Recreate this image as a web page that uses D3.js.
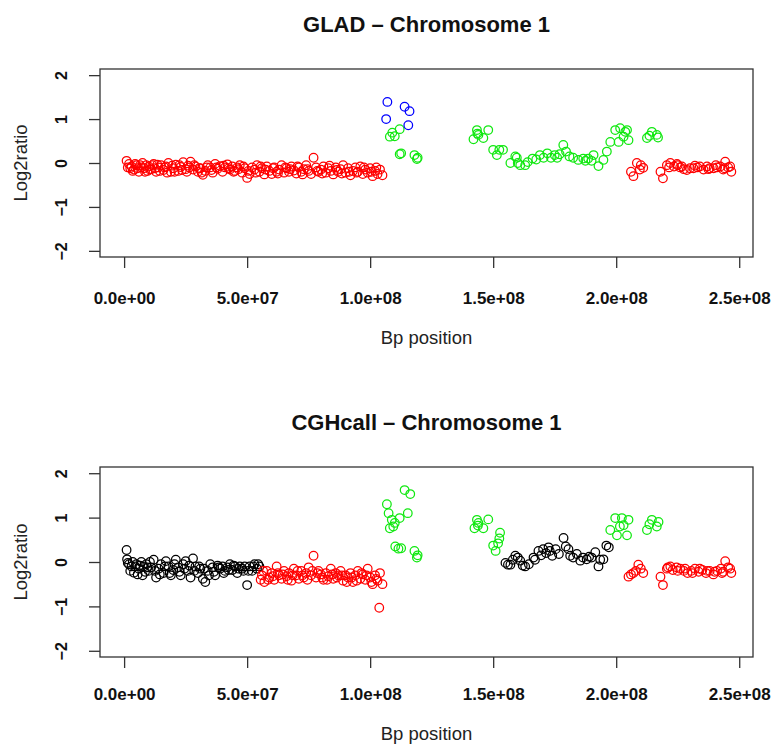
<!DOCTYPE html>
<html>
<head>
<meta charset="utf-8">
<script src="https://cdn.jsdelivr.net/npm/d3@7"></script>
<style>
  body { margin: 0; background: #fff; }
  svg { display: block; font-family: "Liberation Sans", Arial, sans-serif; }
</style>
</head>
<body>
<svg id="chart" width="774" height="748"></svg>
<script>
// tick values / labels shared by both panels
const xTicks = [0, 5e7, 1e8, 1.5e8, 2e8, 2.5e8];
const xTickLabels = ["0.0e+00", "5.0e+07", "1.0e+08", "1.5e+08", "2.0e+08", "2.5e+08"];
const yTicks = [-2, -1, 0, 1, 2];
const yTickLabels = ["\u22122", "\u22121", "0", "1", "2"];

// GLAD panel, [position Mb, log2ratio]
const gladLoss = [
  [1,0.05],[2,-0.02],[3,-0.08],[4,-0.15],[5,-0.05],[6,-0.2],[7,-0.1],[7.5,0],[8,-0.12],[9,-0.05],
  [9.5,-0.18],[10,-0.08],[11,-0.14],[12,-0.02],[13,-0.2],[14,-0.1],[15,-0.05],[16,-0.16],[17,-0.08],[18,0],
  [19,-0.2],[20,-0.12],[21,-0.04],[22,-0.18],[23,-0.09],[24,0.02],[25,-0.14],[26,-0.06],[27,0.03],[28,-0.15],
  [29,-0.08],[30,-0.2],[31,-0.12],[32,-0.27],[33,-0.18],[34,-0.05],[35,-0.1],[36,-0.22],[37,-0.02],[38,-0.13],
  [39,-0.07],[40,-0.2],[41,-0.1],[42,-0.03],[43,-0.15],[44,-0.08],[45,-0.18],[46,-0.1],[47,-0.05],[48,-0.22],
  [49,-0.12],[50,-0.34],[51,-0.25],[52,-0.1],[53,-0.15],[54,-0.05],[55,-0.2],[56,-0.12],[57,-0.26],[58,-0.08],
  [59,-0.18],[60,-0.25],[61,-0.1],[62,-0.2],[63,-0.15],[64,-0.05],[65,-0.22],[66,-0.12],[67,-0.2],[68,-0.08],
  [69,-0.17],[70,-0.24],[71,-0.1],[72,-0.2],[73,-0.14],[74,-0.05],[75,-0.18],[76,-0.25],[77,0.12],[78,-0.1],
  [79,-0.2],[80,-0.15],[81,-0.08],[82,-0.22],[83,-0.12],[84,-0.18],[85,-0.26],[86,-0.1],[87,-0.2],[88,-0.14],
  [89,-0.05],[90,-0.22],[91,-0.12],[92,-0.28],[93,-0.18],[94,-0.1],[95,-0.2],[96,-0.08],[97,-0.25],[98,-0.15],
  [99,-0.22],[100,-0.12],[101,-0.3],[102,-0.18],[103,-0.25],[104,-0.15],[105,-0.28],
  [1.5,-0.1],[2.5,-0.12],[3.5,-0.18],[4.5,-0.02],[5.5,-0.12],[6.5,-0.05],[8.5,-0.2],[10.5,-0.15],[11.5,-0.05],[12.5,-0.12],
  [13.5,-0.04],[14.5,-0.18],[16.5,-0.1],[17.5,-0.22],[19.5,-0.06],[20.5,-0.2],[22.5,-0.05],[23.5,-0.16],[25.5,-0.2],[26.5,-0.1],
  [28.5,-0.05],[30.5,-0.12],[31.5,-0.22],[33.5,-0.1],[35.5,-0.16],[37.5,-0.1],[40.5,-0.06],[42.5,-0.12],[44.5,-0.2],[46.5,-0.14],
  [48.5,-0.08],[50.5,-0.18],[53.5,-0.22],[55.5,-0.08],[57.5,-0.15],[60.5,-0.12],[62.5,-0.24],[65.5,-0.1],[67.5,-0.14],[70.5,-0.08],
  [72.5,-0.26],[74.5,-0.14],[78.5,-0.18],[80.5,-0.24],[83.5,-0.06],[86.5,-0.16],[88.5,-0.24],[91.5,-0.2],[94.5,-0.22],[97.5,-0.1],
  [100.5,-0.2],[102.5,-0.1],
  [206,-0.2],[207,-0.3],[208.4,0],[209.6,-0.15],[210,-0.05],[211,-0.11],
  [218,-0.2],[219,-0.35],[220.6,-0.05],[222,0],[223.5,-0.08],[224.7,-0.02],[226,-0.1],[226.7,-0.08],[228.7,-0.16],[230,-0.12],
  [231.4,-0.12],[233,-0.1],[234,-0.08],[235.5,-0.15],[236.9,-0.08],[238,-0.12],[239.6,-0.12],[241,-0.1],[242.3,-0.08],[243.5,-0.15],
  [244.3,0.03],[245.5,-0.1],[246.3,-0.08],[246.8,-0.2],
  [221.5,-0.1],[225,-0.05],[227.5,-0.14],[232,-0.06],[237.5,-0.14],[240.5,-0.05],[244,-0.12]
];
const gladGain = [
  [108,0.6],[109,0.69],[110,0.61],[112,0.77],[112,0.2],[112.6,0.22],[118,0.18],[119,0.09],[119.3,0.12],
  [142,0.54],[143.4,0.75],[143.6,0.67],[144,0.64],[146,0.57],[148,0.75],
  [150,0.3],[151.5,0.18],[152.5,0.3],[154,0.3],[157,0],[159,0.15],[159.6,0.12],[160,0],[161,-0.05],[163,-0.05],
  [164,0.02],[166,0.1],[167.5,0.08],[169,0.18],[170.5,0.12],[172,0.22],[173.5,0.12],[175,0.18],[176,0.12],[177,0.2],
  [178.5,0.41],[179.6,0.26],[181,0.15],[182.5,0.12],[184.6,0.07],[186.6,0.1],[187.5,0.05],[188.6,0.1],[190,0.05],[190.8,0.18],
  [192.8,-0.07],[194.8,0.07],[196.2,0.26],[197.6,0.48],[199.6,0.75],[201,0.48],[201.6,0.79],[203,0.6],[203.7,0.71],[204.4,0.75],[205,0.52],
  [212.5,0.57],[213.5,0.62],[214.5,0.71],[216.5,0.64],[217,0.58]
];
const gladAmp = [[106.5,1.0],[107,1.39],[114,1.28],[115.5,0.86],[116,1.18]];

// CGHcall panel
const cghNormal = [
  [1,0.27],[1.2,0.06],[2,-0.05],[3,-0.1],[4,-0.24],[5,-0.05],[6,-0.15],[7,0],[7.5,-0.3],[8,-0.1],
  [9,-0.05],[10,-0.2],[11,-0.12],[12,0.05],[13,-0.35],[14,-0.15],[15,-0.05],[16,-0.25],[17,0.02],[18,-0.1],
  [19,-0.3],[20,-0.18],[21,0.05],[22,-0.12],[23,-0.3],[24,-0.05],[25,0.02],[26,-0.2],[27,-0.35],[28,0.08],
  [29,-0.1],[30,-0.25],[31,-0.15],[32,-0.38],[33,-0.45],[34,-0.2],[35,-0.05],[36,-0.12],[37,-0.3],[38,-0.08],
  [39,-0.15],[40,-0.1],[41,-0.2],[42,-0.12],[43,-0.05],[44,-0.18],[45,-0.1],[46,-0.25],[47,-0.1],[48,-0.15],
  [49,-0.1],[50,-0.52],[51,-0.1],[52,-0.2],[53,-0.05],[54,-0.15],[55,-0.1],
  [1.5,-0.02],[2.5,-0.2],[3.5,0],[4.5,-0.1],[5.5,-0.28],[6.5,-0.08],[8.5,-0.22],[9.5,-0.12],[10.5,0],[12.5,-0.2],
  [14.5,-0.28],[16.5,-0.1],[18.5,-0.25],[20.5,-0.05],[22.5,-0.22],[24.5,-0.15],[26.5,-0.08],[28.5,-0.2],[30.5,-0.1],[32.5,-0.15],
  [34.5,-0.3],[36.5,-0.22],[38.5,-0.12],[40.5,-0.25],[42.5,-0.18],[44.5,-0.08],[46.5,-0.15],[48.5,-0.2],[50.5,-0.2],[52.5,-0.1],
  [54.5,-0.05],
  [155,-0.02],[156,-0.06],[157,-0.06],[158,0.05],[159,0.14],[160,0.1],[161,0.03],[162,-0.08],[163,-0.1],[164.5,-0.05],
  [166.4,0.1],[167,0.05],[168.4,0.25],[169.5,0.15],[170.3,0.29],[171.5,0.2],[172.5,0.33],[173,0.25],[174,0.14],[175.4,0.29],
  [176.7,0.18],[178.6,0.54],[179.5,0.35],[180.6,0.29],[181.3,0.14],[182.5,0.1],[184,0.18],[185.4,0.03],[186.5,0.1],[188,0.06],
  [189,0.12],[190,0.1],[191.5,0.22],[192.8,-0.1],[193.5,0.05],[194.8,0.06],[196,0.37],[197,0.33]
];
const cghLoss = [
  [55.5,-0.4],[56,-0.3],[57,-0.45],[58,-0.2],[59,-0.35],[60,-0.25],[61,-0.4],[62,-0.1],[63,-0.3],[64,-0.38],
  [65,-0.2],[66,-0.32],[67,-0.25],[68,-0.42],[69,-0.15],[70,-0.3],[71,-0.38],[72,-0.2],[73,-0.35],[74,-0.25],
  [75,-0.12],[76,-0.3],[77,0.14],[78,-0.35],[79,-0.2],[80,-0.28],[81,-0.4],[82,-0.25],[83,-0.32],[84,-0.15],
  [85,-0.38],[86,-0.25],[87,-0.3],[88,-0.2],[89,-0.42],[90,-0.3],[91,-0.35],[92,-0.25],[93,-0.45],[94,-0.3],
  [95,-0.2],[96,-0.38],[97,-0.28],[98,-0.4],[99,-0.15],[100,-0.35],[101,-0.5],[102,-0.3],[103,-0.42],[103.7,-1.03],
  [104,-0.25],[105,-0.5],
  [56.5,-0.2],[58.5,-0.4],[60.5,-0.32],[62.5,-0.25],[64.5,-0.28],[66.5,-0.4],[68.5,-0.3],[70.5,-0.2],[72.5,-0.3],[74.5,-0.4],
  [76.5,-0.2],[78.5,-0.25],[80.5,-0.35],[82.5,-0.4],[84.5,-0.28],[86.5,-0.35],[88.5,-0.3],[90.5,-0.45],[92.5,-0.35],[94.5,-0.42],
  [96.5,-0.25],[98.5,-0.3],[100.5,-0.45],[102.5,-0.38],
  [205,-0.33],[206,-0.28],[207,-0.25],[208,-0.2],[209,-0.06],[210,-0.15],[211,-0.25],
  [218,-0.33],[219,-0.52],[220.6,-0.15],[222,-0.1],[223,-0.18],[224.5,-0.12],[226,-0.15],[227.5,-0.2],[229,-0.25],[230.5,-0.2],
  [232,-0.15],[233.5,-0.22],[235,-0.18],[236.5,-0.25],[238,-0.2],[239.5,-0.28],[241,-0.2],[242.5,-0.15],[243.5,-0.22],[244.3,0.02],
  [245.5,-0.12],[246.3,-0.15],[246.8,-0.25],
  [221,-0.12],[225,-0.2],[228,-0.15],[231,-0.25],[234,-0.15],[237,-0.2],[240,-0.22],[243,-0.25]
];
const cghGain = [
  [106.8,1.3],[107.5,1.1],[108,0.76],[108.8,0.95],[109.4,0.8],[110,0.88],[110.2,0.35],[111.5,0.3],[112,0.99],[112.6,0.31],
  [114,1.62],[115.3,1.1],[116.3,1.53],[118,0.25],[119,0.1],[119.3,0.15],
  [142.4,0.76],[143.4,0.95],[143.8,0.82],[144,0.88],[146,0.76],[148,0.96],[150,0.37],[151,0.25],[152,0.42],[152.5,0.53],[152.8,0.66],
  [197.6,0.72],[199.6,0.99],[200.3,0.6],[201.5,0.8],[202.3,0.99],[203,0.83],[204.4,0.6],[205,0.95],
  [212.5,0.72],[213.5,0.85],[214.5,0.95],[216.5,0.8],[217.2,0.9]
];

const svg = d3.select("#chart");
const boxLeft = 100, boxRight = 753;

var x = d3.scaleLinear().domain([-9.8e6, 2.556e8]).range([boxLeft, boxRight]);

function drawPanel(top, bottom, title, series, labelGap) {
    var y = d3.scaleLinear().domain([-2.14, 2.14]).range([bottom, top]);
    var g = svg.append("g");

    // points
    series.forEach(function(s) {
        g.append("g")
          .selectAll("circle")
          .data(s.data)
          .enter()
          .append("circle")
            .attr("cx", function(d){ return x(d[0] * 1e6) })
            .attr("cy", function(d){ return y(d[1]) })
            .attr("r", 4.3)
            .attr("fill", "none")
            .attr("stroke", s.color)
            .attr("stroke-width", 1.25);
    });

    // frame
    g.append("rect")
      .attr("x", boxLeft).attr("y", top)
      .attr("width", boxRight - boxLeft).attr("height", bottom - top)
      .attr("fill", "none").attr("stroke", "#333").attr("stroke-width", 1.3);

    var xAxis = g.append("g")
      .attr("transform", "translate(0," + bottom + ")")
      .call(d3.axisBottom(x).tickValues(xTicks)
        .tickFormat(function(d, i){ return xTickLabels[i] })
        .tickSize(11).tickSizeOuter(0).tickPadding(labelGap));
    xAxis.select(".domain").remove();
    xAxis.selectAll("line").attr("stroke", "#333").attr("stroke-width", 1.3);
    xAxis.selectAll("text")
      .attr("fill", "#111")
      .style("font-size", "17px").style("font-weight", "bold")
      .style("font-family", "'Liberation Sans', Arial, sans-serif");

    var yAxis = g.append("g")
      .attr("transform", "translate(" + boxLeft + ",0)")
      .call(d3.axisLeft(y).tickValues(yTicks)
        .tickFormat(function(d, i){ return yTickLabels[i] })
        .tickSize(11).tickSizeOuter(0));
    yAxis.select(".domain").remove();
    yAxis.selectAll("line").attr("stroke", "#333").attr("stroke-width", 1.3);
    yAxis.selectAll("text")
      .attr("x", null).attr("dy", null)
      .attr("text-anchor", "middle")
      .attr("transform", "translate(-33,0) rotate(-90)")
      .attr("fill", "#111")
      .style("font-size", "16px").style("font-weight", "bold")
      .style("font-family", "'Liberation Sans', Arial, sans-serif");

    // titles
    g.append("text")
      .attr("x", (boxLeft + boxRight) / 2).attr("y", top - 37)
      .attr("text-anchor", "middle")
      .style("font-size", "22px").style("font-weight", "bold")
      .attr("fill", "#111")
      .text(title);

    g.append("text")
      .attr("x", (boxLeft + boxRight) / 2).attr("y", bottom + labelGap + 63)
      .attr("text-anchor", "middle")
      .style("font-size", "18.5px")
      .attr("fill", "#222")
      .text("Bp position");

    g.append("text")
      .attr("transform", "translate(27," + ((top + bottom) / 2) + ") rotate(-90)")
      .attr("text-anchor", "middle")
      .style("font-size", "18.5px")
      .attr("fill", "#222")
      .text("Log2ratio");
}

drawPanel(69, 257, "GLAD \u2013 Chromosome 1", [
    {data: gladLoss, color: "#ff0000"},
    {data: gladGain, color: "#10e810"},
    {data: gladAmp, color: "#0000ff"}
], 24);

drawPanel(467, 657, "CGHcall \u2013 Chromosome 1", [
    {data: cghNormal, color: "#000000"},
    {data: cghLoss, color: "#ff0000"},
    {data: cghGain, color: "#10e810"}
], 20);
</script>
</body>
</html>
